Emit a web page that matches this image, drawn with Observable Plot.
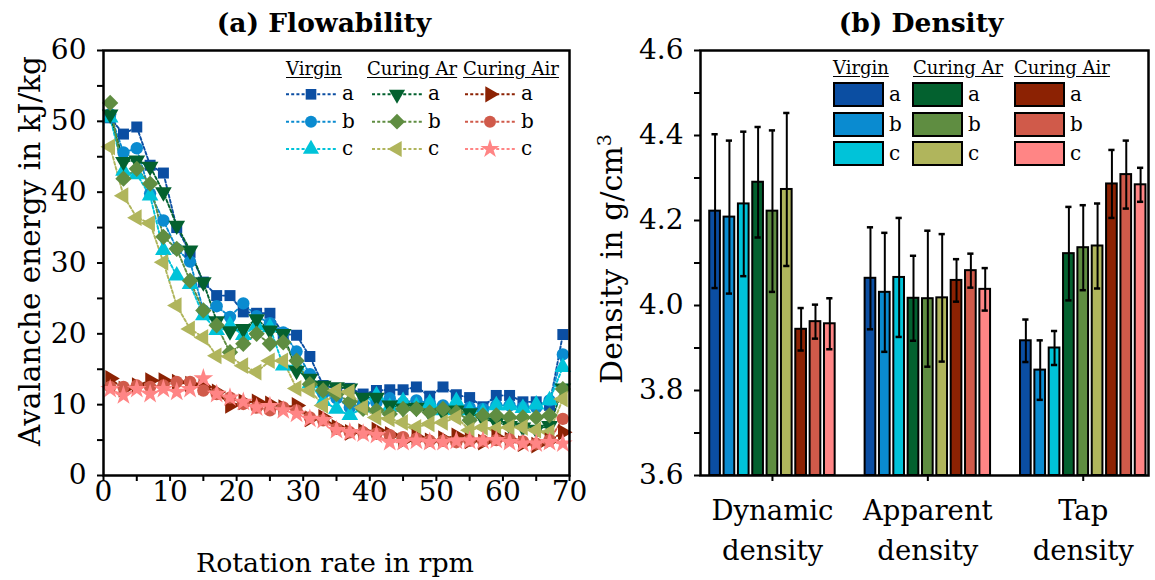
<!DOCTYPE html>
<html><head><meta charset="utf-8">
<script src="https://cdn.jsdelivr.net/npm/d3@7"></script>
<script src="https://cdn.jsdelivr.net/npm/@observablehq/plot@0.6"></script>
<style>
html,body{margin:0;padding:0;background:#fff;}
#root{position:relative;width:1155px;height:580px;font-family:"DejaVu Serif",serif;color:#000;overflow:hidden;background:#fff;}
.abs{position:absolute;white-space:nowrap;}
.title{font-weight:bold;font-size:26.5px;line-height:26px;transform:translateX(-50%);}
.axt{font-size:26.8px;line-height:28px;}
.rot{transform:translate(-50%,-50%) rotate(-90deg);}
.hdr{font-size:18px;line-height:18px;text-decoration:underline;text-underline-offset:2px;}
.lab{font-size:20px;line-height:20px;}
.sw{position:absolute;width:47px;height:21px;border:2px solid #000;}
</style></head><body><div id="root"></div>
<script>
// ---------- data: (a) Flowability ----------
const rpm = [1,3,5,7,9,11,13,15,17,19,21,23,25,27,29,31,33,35,37,39,41,43,45,47,49,51,53,55,57,59,61,63,65,67,69];
const virginA = [50.5,48.2,49.2,43.8,42.7,35,31.5,27.3,25.4,25.4,23.1,22.9,22.9,20,19.8,16.8,12.7,12.3,12.3,11.5,12,12.1,12.1,12.5,11.2,12.5,11.4,11,9.7,11.3,11.3,10.4,10.4,9.9,19.9];
const virginB = [51,45.6,46.2,39.8,36,32,30.2,23.3,23.9,22.4,24.3,22.5,21.5,20.2,17.5,14.3,11.6,10.9,9.6,10.1,10.3,10.9,10.3,10.6,10.2,9.9,9.6,9.6,9.4,9.9,9.9,9.6,9.6,10.6,17.1];
const virginC = [50.5,43,42.5,39.5,31.8,28.2,27,22.6,20.5,21.2,19.8,21.2,20.9,15.5,15.5,13,10.5,9.4,8.5,9.6,11.3,9.7,10.5,9.8,10.2,9.2,10.5,9.2,8.9,9.9,9.9,9.5,10,10.6,15.3];
const arA = [51,44.3,44.5,43.6,40,35.3,31.8,27.3,21.8,20.4,20.7,22.1,20.5,20,14.8,13.7,12.7,12.5,12.3,11,11,9.9,9.5,9.6,8.8,8.9,9.2,8.8,8,7.5,7,6.8,6.5,7,12.3];
const arB = [52.6,41.9,43.3,41.2,33.7,32,27.5,23.3,21.2,17.4,18.6,20,18.6,18.8,16.2,12.9,12,11.5,10.4,9.4,9.2,8.7,9.4,9.4,8.9,9.4,8.9,7.8,8.5,8.5,8.2,8.2,8.2,8.5,12.2];
const arC = [46.4,39.5,36.4,35.6,30.1,24,20.7,19.5,16.9,16.8,15.5,14.6,16.2,16.2,12.3,12,9.9,12,11.8,9.6,8.2,8,7.5,6.8,7.3,7.5,8.2,6.4,6.8,6.6,6.8,6.8,6.4,6.1,10.8];
const airA = [13.7,12.2,12.7,13.4,13.4,13.2,12.9,12.5,11.8,9.9,10.4,10.4,10.1,9.6,9.9,8,8.2,6.8,6.1,6.2,6.4,5.8,4.9,5.4,4.9,5.2,5.6,4.9,4.7,5.4,5,4.5,4.3,4.9,6.1];
const airB = [12.5,12.5,12.7,12.5,12.7,13.2,13.2,12,11.5,11,10.1,9.6,9.2,9.6,9.2,8.2,7.8,6.6,6.1,6.1,5.9,5.7,5.4,5.2,4.9,4.9,4.7,4.9,4.9,5,5.1,4.8,4.5,5,8];
const airC = [12.2,11.3,12.2,11.5,12.2,11.8,12.2,13.7,11.5,11,10.4,9.6,9.8,9.2,8.7,8,7.8,6.4,6.1,5.9,5.7,4.7,4.7,4.9,4.7,4.7,4.9,4.9,4.9,5,4.7,4.5,4.5,4.7,4.5];
const xTicksMajor = [0,10,20,30,40,50,60,70];
const xTicksMinor = [5,15,25,35,45,55,65];
const yTicksMajor = [0,10,20,30,40,50,60];
const yTicksMinor = [5,15,25,35,45,55];

// ---------- data: (b) Density ----------
const groups = ["Dynamic density","Apparent density","Tap density"];
const groupLabels = ["Dynamic\ndensity","Apparent\ndensity","Tap\ndensity"];
const samples = ["Virgin a","Virgin b","Virgin c","Curing Ar a","Curing Ar b","Curing Ar c","Curing Air a","Curing Air b","Curing Air c"];
const dynamicMean = [4.222,4.208,4.239,4.290,4.222,4.273,3.944,3.962,3.957];
const dynamicErr  = [0.181,0.180,0.170,0.130,0.190,0.180,0.050,0.040,0.060];
const apparentMean = [4.064,4.031,4.066,4.017,4.016,4.018,4.059,4.082,4.038];
const apparentErr  = [0.120,0.140,0.140,0.100,0.160,0.150,0.050,0.040,0.050];
const tapMean = [3.917,3.848,3.900,4.122,4.136,4.140,4.286,4.308,4.284];
const tapErr  = [0.050,0.070,0.040,0.110,0.100,0.100,0.080,0.080,0.040];
const densTicksMajor = [3.6,3.8,4.0,4.2,4.4,4.6];
const densTicksMinor = [3.7,3.9,4.1,4.3,4.5];

const legendGroups = ["Virgin","Curing Ar","Curing Air"];
const legendLetters = ["a","b","c"];
const colors = ["#0b4ea2","#0a8bd0","#00c3d9","#03612f","#5f8d41","#b0b55c","#8c2203","#d05a4a","#ff8585"];

// ---------- symbols ----------
function tri(angle){
  return {draw(ctx,size){
    const y = -Math.sqrt(size/(Math.sqrt(3)*3));
    const pts=[[0,2*y],[-Math.sqrt(3)*y,-y],[Math.sqrt(3)*y,-y]];
    const a=angle*Math.PI/180,c=Math.cos(a),s=Math.sin(a);
    pts.forEach(([px,py],i)=>{const X=px*c-py*s,Y=px*s+py*c; i?ctx.lineTo(X,Y):ctx.moveTo(X,Y);});
    ctx.closePath();
  }};
}
const diamondSq = {draw(ctx,size){const h=Math.sqrt(size/2)*1.05;ctx.moveTo(0,-h);ctx.lineTo(h,0);ctx.lineTo(0,h);ctx.lineTo(-h,0);ctx.closePath();}};
const symbols = [d3.symbolSquare, d3.symbolCircle, tri(0), tri(180), diamondSq, tri(-90), tri(90), d3.symbolCircle, d3.symbolStar];
const seriesValues = [virginA,virginB,virginC,arA,arB,arC,airA,airB,airC];

const rows = samples.map((s,k)=>rpm.map((r,i)=>({sample:s, rpm:r, value:seriesValues[k][i]})));

const root = document.getElementById("root");
const font = {fontFamily:"DejaVu Serif", fontSize:"28px", color:"#000", background:"transparent", overflow:"visible"};

// ---------- (a) ----------
const left = Plot.plot({
  width:590, height:580, marginLeft:103, marginRight:21, marginTop:50, marginBottom:105,
  style:font,
  x:{domain:[0,70]},
  y:{domain:[0,60]},
  marks:[
    ...rows.map((d,k)=>Plot.line(d,{x:"rpm",y:"value",stroke:colors[k],strokeWidth:1.9,strokeDasharray:"3,2.2"})),
    ...rows.map((d,k)=>Plot.dot(d,{x:"rpm",y:"value",fill:colors[k],stroke:"none",r:6.2,symbol:symbols[k]})),
    Plot.axisX(xTicksMajor,{tickSize:6,tickPadding:0,strokeWidth:2,label:null,tickFormat:d=>String(d)}),
    Plot.axisX(xTicksMinor,{tickSize:6,strokeWidth:2,label:null,tickFormat:()=>""}),
    Plot.axisY(yTicksMajor,{tickSize:6,tickPadding:11,strokeWidth:2,label:null,tickFormat:d=>String(d)}),
    Plot.axisY(yTicksMinor,{tickSize:6,strokeWidth:2,label:null,tickFormat:()=>""}),
    Plot.frame({stroke:"#000",strokeWidth:2.5})
  ]
});
left.style.position="absolute"; left.style.left="0px"; left.style.top="0px";
root.appendChild(left);

// ---------- (b) ----------
const means=[dynamicMean,apparentMean,tapMean], errs=[dynamicErr,apparentErr,tapErr];
const bars = groups.flatMap((g,gi)=>samples.map((s,si)=>({group:g,gi,sample:s,si,mean:means[gi][si],err:errs[gi][si]})));
const pitch=0.0923, half=0.0344, cap=0.02;
const cx = d=>d.gi+(d.si-4)*pitch;
const right = Plot.plot({
  width:565, height:580, marginLeft:110, marginRight:7, marginTop:50, marginBottom:105,
  style:font,
  x:{domain:[-0.463,2.42]},
  y:{domain:[3.6,4.6]},
  color:{domain:samples, range:colors},
  marks:[
    Plot.rectY(bars,{x1:d=>cx(d)-half,x2:d=>cx(d)+half,y1:3.6,y2:"mean",fill:"sample",stroke:"#000",strokeWidth:2}),
    Plot.ruleX(bars,{x:cx,y1:d=>d.mean-d.err,y2:d=>d.mean+d.err,stroke:"#000",strokeWidth:2}),
    Plot.ruleY(bars,{y:d=>d.mean+d.err,x1:d=>cx(d)-cap,x2:d=>cx(d)+cap,stroke:"#000",strokeWidth:2.5}),
    Plot.ruleY(bars,{y:d=>d.mean-d.err,x1:d=>cx(d)-cap,x2:d=>cx(d)+cap,stroke:"#000",strokeWidth:2.5}),
    Plot.axisX([0,1,2],{tickSize:6,tickPadding:10,strokeWidth:2,label:null,tickFormat:i=>groupLabels[i],lineHeight:1.45,fontSize:27.5}),
    Plot.axisY(densTicksMajor,{tickSize:6,tickPadding:11,strokeWidth:2,label:null,tickFormat:d3.format(".1f")}),
    Plot.axisY(densTicksMinor,{tickSize:6,strokeWidth:2,label:null,tickFormat:()=>""}),
    Plot.frame({stroke:"#000",strokeWidth:2.5})
  ]
});
right.style.position="absolute"; right.style.left="590px"; right.style.top="0px";
root.appendChild(right);

// ---------- titles / axis labels ----------
function addDiv(cls, html, styles){const d=document.createElement("div");d.className="abs "+cls;d.innerHTML=html;Object.assign(d.style,styles);root.appendChild(d);return d;}
addDiv("title","(a) Flowability",{left:"324px",top:"10px"});
addDiv("title","(b) Density",{left:"921px",top:"10px"});
addDiv("axt","Rotation rate in rpm",{left:"335px",top:"549px",transform:"translateX(-50%)"});
addDiv("axt rot","Avalanche energy in kJ/kg",{left:"30px",top:"251px",fontSize:"29.5px"});
addDiv("axt rot","Density in g/cm<sup style='font-size:19px;line-height:0'>3</sup>",{left:"612px",top:"259px",fontSize:"30px"});

// ---------- legend (a) ----------
const headLeftA=[286,367,463], lineLeftA=[286,372,465], rowY=[94.3,121.7,149];
const lsvg = d3.select(root).append("svg").attr("class","abs").style("left","0px").style("top","0px").attr("width",1155).attr("height",200).style("pointer-events","none");
legendGroups.forEach((g,gi)=>{
  addDiv("hdr",g,{left:headLeftA[gi]+"px",top:"60px"});
  legendLetters.forEach((L,li)=>{
    const k=gi*3+li, y=rowY[li], x0=lineLeftA[gi];
    lsvg.append("line").attr("x1",x0).attr("x2",x0+50).attr("y1",y).attr("y2",y).attr("stroke",colors[k]).attr("stroke-width",1.9).attr("stroke-dasharray","3,2.2");
    lsvg.append("path").attr("transform",`translate(${x0+25},${y})`).attr("d",d3.symbol(symbols[k],36*Math.PI)()).attr("fill",colors[k]);
    addDiv("lab",L,{left:(x0+56)+"px",top:(y-11)+"px"});
  });
});

// ---------- legend (b) ----------
const headLeftB=[833,913,1014], swLeftB=[833,912,1014], swTop=[82,111.5,141];
legendGroups.forEach((g,gi)=>{
  addDiv("hdr",g,{left:headLeftB[gi]+"px",top:"59px"});
  legendLetters.forEach((L,li)=>{
    const k=gi*3+li;
    const s=document.createElement("div");s.className="sw";
    Object.assign(s.style,{left:swLeftB[gi]+"px",top:swTop[li]+"px",background:colors[k]});
    root.appendChild(s);
    addDiv("lab",L,{left:(swLeftB[gi]+56)+"px",top:(swTop[li]+2)+"px"});
  });
});
</script>
</body></html>
